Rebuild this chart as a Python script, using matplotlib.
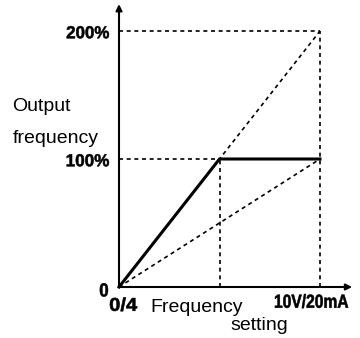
import matplotlib.pyplot as plt
from matplotlib.textpath import TextPath
from matplotlib.patches import PathPatch
from matplotlib.font_manager import FontProperties
from matplotlib.transforms import Affine2D

# frequency setting (fraction of full scale) vs output frequency (%)
setting = [0.0, 0.5, 1.0]
output = [0, 100, 100]          # bias/gain characteristic, solid
gain_200 = [0, 200]             # dashed, reaches 200% at full scale
gain_100 = [0, 100]             # dashed, reaches 100% at full scale
y_ticks = [100, 200]
y_tick_labels = ["100%", "200%"]

plt.rcParams['font.family'] = ['Liberation Sans', 'DejaVu Sans']

fig = plt.figure(figsize=(3.6, 3.38), dpi=100)
ax = fig.add_axes([0, 0, 1, 1])
ax.set_xlim(-119 / 201, 241 / 201)
ax.set_ylim(-51 / 1.28, 287 / 1.28)
ax.axis('off')

bold_fp = FontProperties(family='Liberation Sans', weight='bold')


def box_text(s, x0, x1, yc, h):
    # bold condensed label stretched to fill [x0, x1] with height h around yc (data units)
    tp = TextPath((0, 0), s, size=10, prop=bold_fp)
    bb = tp.get_extents()
    (px0, py0), (px1, py1) = ax.transData.transform([(x0, yc - h / 2), (x1, yc + h / 2)])
    tr = (Affine2D().translate(-bb.x0, -bb.y0)
          .scale((px1 - px0) / bb.width, (py1 - py0) / bb.height)
          .translate(px0, py0))
    ax.add_patch(PathPatch(tp, transform=tr, color='black', lw=0.4))


dash = dict(color='black', lw=1.2, linestyle=(0, (2.4, 2.2)))

# guide lines
ax.plot([0, setting[2]], [y_ticks[1], y_ticks[1]], **dash)
ax.plot([0, setting[1]], [y_ticks[0], y_ticks[0]], **dash)
ax.plot([setting[1], setting[1]], [0, y_ticks[0]], **dash)
ax.plot([setting[2], setting[2]], [0, y_ticks[1]], **dash)

# gain lines
ax.plot([setting[0], setting[2]], gain_200, **dash)
ax.plot([setting[0], setting[2]], gain_100, **dash)

# characteristic
ax.plot(setting, output, color='black', lw=2.2, solid_joinstyle='miter')

# axes with arrows
ax.annotate('', xy=(0, 221), xytext=(0, 0),
            arrowprops=dict(arrowstyle='-|>', color='black', lw=1.5,
                            mutation_scale=9, shrinkA=0, shrinkB=0))
ax.annotate('', xy=(1.16, 0), xytext=(0, 0),
            arrowprops=dict(arrowstyle='-|>', color='black', lw=1.5,
                            mutation_scale=9, shrinkA=0, shrinkB=0))

for v, lab in zip(y_ticks, y_tick_labels):
    box_text(lab, -0.26, -0.05, v - 1, 9.6)
box_text("0", -0.095, -0.055, -2.3, 10.5)
box_text("0/4", -0.045, 0.09, -13.5, 10.8)
box_text("10V/20mA", 0.776, 1.14, -11.0, 11.0)

ax.text(-0.53, 137.5, "Output", ha='left', va='baseline', fontsize=14)
ax.text(-0.53, 112.5, "frequency", ha='left', va='baseline', fontsize=14)
ax.text(0.155, -19.5, "Frequency", ha='left', va='baseline', fontsize=14)
ax.text(0.70, -33.5, "setting", ha='center', va='baseline', fontsize=14)

fig.savefig('out.png', dpi=100)
